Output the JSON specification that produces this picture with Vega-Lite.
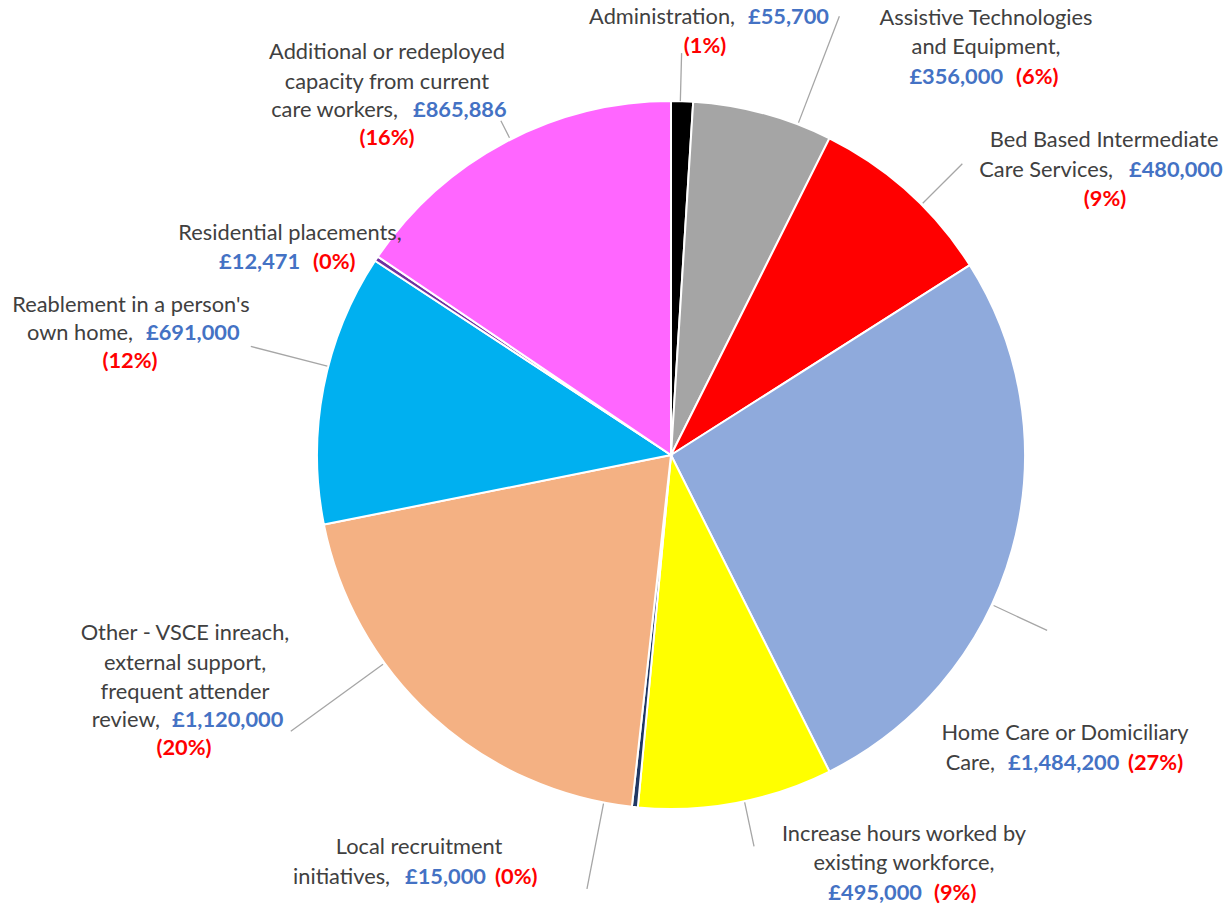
{
  "$schema": "https://vega.github.io/schema/vega-lite/v6.json",
  "autosize": {"type": "none"},
  "padding": {"left": 116, "top": 4, "right": 0, "bottom": 0},
  "width": 1110,
  "height": 902,
  "background": "white",
  "config": {
    "view": {"stroke": null},
    "text": {"font": "Lato", "fontSize": 21.8, "baseline": "middle", "lineHeight": 29.5}
  },
  "data": {
    "values": [
      {"key": "adm", "order": 1, "category": "Administration", "amount": 55700, "head": "", "mix": "Administration,", "amt": "£55,700", "pct": "(1%)"},
      {"key": "ast", "order": 2, "category": "Assistive Technologies and Equipment", "amount": 356000, "head": ["Assistive Technologies", "and Equipment,"], "mix": "", "amt": "£356,000", "pct": "(6%)"},
      {"key": "bed", "order": 3, "category": "Bed Based Intermediate Care Services", "amount": 480000, "head": "Bed Based Intermediate", "mix": "Care Services,", "amt": "£480,000", "pct": "(9%)"},
      {"key": "home", "order": 4, "category": "Home Care or Domiciliary Care", "amount": 1484200, "head": "Home Care or Domiciliary", "mix": "Care,", "amt": "£1,484,200", "pct": "(27%)"},
      {"key": "inc", "order": 5, "category": "Increase hours worked by existing workforce", "amount": 495000, "head": ["Increase hours worked by", "existing workforce,"], "mix": "", "amt": "£495,000", "pct": "(9%)"},
      {"key": "loc", "order": 6, "category": "Local recruitment initiatives", "amount": 15000, "head": "Local recruitment", "mix": "initiatives,", "amt": "£15,000", "pct": "(0%)"},
      {"key": "oth", "order": 7, "category": "Other - VSCE inreach, external support, frequent attender review", "amount": 1120000, "head": ["Other - VSCE inreach,", "external support,", "frequent attender"], "mix": "review,", "amt": "£1,120,000", "pct": "(20%)"},
      {"key": "reab", "order": 8, "category": "Reablement in a person's own home", "amount": 691000, "head": "Reablement in a person's", "mix": "own home,", "amt": "£691,000", "pct": "(12%)"},
      {"key": "res", "order": 9, "category": "Residential placements", "amount": 12471, "head": "Residential placements,", "mix": "", "amt": "£12,471", "pct": "(0%)"},
      {"key": "add", "order": 10, "category": "Additional or redeployed capacity from current care workers", "amount": 865886, "head": ["Additional or redeployed", "capacity from current"], "mix": "care workers,", "amt": "£865,886", "pct": "(16%)"}
    ]
  },
  "transform": [
    {"stack": "amount", "groupby": [], "sort": [{"field": "order", "order": "ascending"}], "as": ["t0", "t1"]}
  ],
  "encoding": {
    "theta": {"field": "t0", "type": "quantitative", "stack": null, "scale": {"domain": [0, 5575257]}}
  },
  "layer": [
    {
      "mark": {"type": "arc", "radius": 354, "stroke": "white", "strokeWidth": 2},
      "encoding": {
        "theta2": {"field": "t1"},
        "color": {
          "field": "category", "type": "nominal", "legend": null,
          "scale": {
            "domain": ["Administration", "Assistive Technologies and Equipment", "Bed Based Intermediate Care Services", "Home Care or Domiciliary Care", "Increase hours worked by existing workforce", "Local recruitment initiatives", "Other - VSCE inreach, external support, frequent attender review", "Reablement in a person's own home", "Residential placements", "Additional or redeployed capacity from current care workers"],
            "range": ["#000000", "#A5A5A5", "#FF0000", "#8FAADC", "#FFFF00", "#203864", "#F4B183", "#00B0F0", "#7030A0", "#FF66FF"]
          }
        }
      }
    },
    {"transform": [{"filter": "datum.key === 'adm'"}], "mark": {"type": "arc", "stroke": "#A6A6A6", "strokeWidth": 1.3, "filled": false, "padAngle": 3.1, "radius": 402, "radius2": 354, "thetaOffset": -0.005, "theta2Offset": -0.005}, "encoding": {"theta2": {"field": "t1"}}},
    {"transform": [{"filter": "datum.key === 'ast'"}], "mark": {"type": "arc", "stroke": "#A6A6A6", "strokeWidth": 1.3, "filled": false, "padAngle": 3.1, "radius": 470, "radius2": 356, "thetaOffset": 0.103, "theta2Offset": 0.103}, "encoding": {"theta2": {"field": "t1"}}},
    {"transform": [{"filter": "datum.key === 'bed'"}], "mark": {"type": "arc", "stroke": "#A6A6A6", "strokeWidth": 1.3, "filled": false, "padAngle": 3.1, "radius": 412, "radius2": 356, "thetaOffset": 0.051, "theta2Offset": 0.051}, "encoding": {"theta2": {"field": "t1"}}},
    {"transform": [{"filter": "datum.key === 'home'"}], "mark": {"type": "arc", "stroke": "#A6A6A6", "strokeWidth": 1.3, "filled": false, "padAngle": 3.1, "radius": 415, "radius2": 356, "thetaOffset": 0.166, "theta2Offset": 0.166}, "encoding": {"theta2": {"field": "t1"}}},
    {"transform": [{"filter": "datum.key === 'inc'"}], "mark": {"type": "arc", "stroke": "#A6A6A6", "strokeWidth": 1.3, "filled": false, "padAngle": 3.1, "radius": 400, "radius2": 355, "thetaOffset": -0.024, "theta2Offset": -0.024}, "encoding": {"theta2": {"field": "t1"}}},
    {"transform": [{"filter": "datum.key === 'loc'"}], "mark": {"type": "arc", "stroke": "#A6A6A6", "strokeWidth": 1.3, "filled": false, "padAngle": 3.1, "radius": 442, "radius2": 355, "thetaOffset": 0.089, "theta2Offset": 0.089}, "encoding": {"theta2": {"field": "t1"}}},
    {"transform": [{"filter": "datum.key === 'oth'"}], "mark": {"type": "arc", "stroke": "#A6A6A6", "strokeWidth": 1.3, "filled": false, "padAngle": 3.1, "radius": 470, "radius2": 356, "thetaOffset": 0.2005, "theta2Offset": 0.2005}, "encoding": {"theta2": {"field": "t1"}}},
    {"transform": [{"filter": "datum.key === 'reab'"}], "mark": {"type": "arc", "stroke": "#A6A6A6", "strokeWidth": 1.3, "filled": false, "padAngle": 3.1, "radius": 434, "radius2": 355, "thetaOffset": 0.0614, "theta2Offset": 0.0614}, "encoding": {"theta2": {"field": "t1"}}},
    {"transform": [{"filter": "datum.key === 'add'"}], "mark": {"type": "arc", "stroke": "#A6A6A6", "strokeWidth": 1.3, "filled": false, "padAngle": 3.1, "radius": 375, "radius2": 356, "thetaOffset": 0.017, "theta2Offset": 0.017}, "encoding": {"theta2": {"field": "t1"}}},

    {"transform": [{"filter": "datum.key === 'adm'"}], "mark": {"type": "text", "fill": "#404040", "radius": 440.7, "thetaOffset": 0.1114, "dx": 15, "dy": 0, "align": "right"}, "encoding": {"text": {"field": "mix"}}},
    {"transform": [{"filter": "datum.key === 'adm'"}], "mark": {"type": "text", "fill": "#4472C4", "fontWeight": "bold", "radius": 440.7, "thetaOffset": 0.1114, "dx": 28, "dy": 0, "align": "left"}, "encoding": {"text": {"field": "amt"}}},
    {"transform": [{"filter": "datum.key === 'adm'"}], "mark": {"type": "text", "fill": "#FF0000", "fontWeight": "bold", "radius": 440.7, "thetaOffset": 0.1114, "dx": -15, "dy": 29, "align": "center"}, "encoding": {"text": {"field": "pct"}}},

    {"transform": [{"filter": "datum.key === 'ast'"}], "mark": {"type": "text", "fill": "#404040", "radius": 515.5, "thetaOffset": 0.5947, "dx": 0, "dy": -29, "align": "center"}, "encoding": {"text": {"field": "head"}}},
    {"transform": [{"filter": "datum.key === 'ast'"}], "mark": {"type": "text", "fill": "#4472C4", "fontWeight": "bold", "radius": 515.5, "thetaOffset": 0.5947, "dx": 17, "dy": 30, "align": "right"}, "encoding": {"text": {"field": "amt"}}},
    {"transform": [{"filter": "datum.key === 'ast'"}], "mark": {"type": "text", "fill": "#FF0000", "fontWeight": "bold", "radius": 515.5, "thetaOffset": 0.5947, "dx": 30, "dy": 30, "align": "left"}, "encoding": {"text": {"field": "pct"}}},

    {"transform": [{"filter": "datum.key === 'bed'"}], "mark": {"type": "text", "fill": "#404040", "radius": 518.4, "thetaOffset": 0.5248, "dx": 0, "dy": -30, "align": "center"}, "encoding": {"text": {"field": "head"}}},
    {"transform": [{"filter": "datum.key === 'bed'"}], "mark": {"type": "text", "fill": "#404040", "radius": 518.4, "thetaOffset": 0.5248, "dx": 9, "dy": 0, "align": "right"}, "encoding": {"text": {"field": "mix"}}},
    {"transform": [{"filter": "datum.key === 'bed'"}], "mark": {"type": "text", "fill": "#4472C4", "fontWeight": "bold", "radius": 518.4, "thetaOffset": 0.5248, "dx": 25, "dy": 0, "align": "left"}, "encoding": {"text": {"field": "amt"}}},
    {"transform": [{"filter": "datum.key === 'bed'"}], "mark": {"type": "text", "fill": "#FF0000", "fontWeight": "bold", "radius": 518.4, "thetaOffset": 0.5248, "dx": 1, "dy": 29, "align": "center"}, "encoding": {"text": {"field": "pct"}}},

    {"transform": [{"filter": "datum.key === 'home'"}], "mark": {"type": "text", "fill": "#404040", "radius": 491.0, "thetaOffset": 1.2053, "dx": 0, "dy": -15, "align": "center"}, "encoding": {"text": {"field": "head"}}},
    {"transform": [{"filter": "datum.key === 'home'"}], "mark": {"type": "text", "fill": "#404040", "radius": 491.0, "thetaOffset": 1.2053, "dx": -70, "dy": 15, "align": "right"}, "encoding": {"text": {"field": "mix"}}},
    {"transform": [{"filter": "datum.key === 'home'"}], "mark": {"type": "text", "fill": "#4472C4", "fontWeight": "bold", "radius": 491.0, "thetaOffset": 1.2053, "dx": -57, "dy": 15, "align": "left"}, "encoding": {"text": {"field": "amt"}}},
    {"transform": [{"filter": "datum.key === 'home'"}], "mark": {"type": "text", "fill": "#FF0000", "fontWeight": "bold", "radius": 491.0, "thetaOffset": 1.2053, "dx": 63, "dy": 15, "align": "left"}, "encoding": {"text": {"field": "pct"}}},

    {"transform": [{"filter": "datum.key === 'inc'"}], "mark": {"type": "text", "fill": "#404040", "radius": 470.3, "thetaOffset": -0.0567, "dx": -1, "dy": -29, "align": "center"}, "encoding": {"text": {"field": "head"}}},
    {"transform": [{"filter": "datum.key === 'inc'"}], "mark": {"type": "text", "fill": "#4472C4", "fontWeight": "bold", "radius": 470.3, "thetaOffset": -0.0567, "dx": 17, "dy": 30, "align": "right"}, "encoding": {"text": {"field": "amt"}}},
    {"transform": [{"filter": "datum.key === 'inc'"}], "mark": {"type": "text", "fill": "#FF0000", "fontWeight": "bold", "radius": 470.3, "thetaOffset": -0.0567, "dx": 29, "dy": 30, "align": "left"}, "encoding": {"text": {"field": "pct"}}},

    {"transform": [{"filter": "datum.key === 'loc'"}], "mark": {"type": "text", "fill": "#404040", "radius": 478.7, "thetaOffset": 0.4604, "dx": 0, "dy": -15, "align": "center"}, "encoding": {"text": {"field": "head"}}},
    {"transform": [{"filter": "datum.key === 'loc'"}], "mark": {"type": "text", "fill": "#404040", "radius": 478.7, "thetaOffset": 0.4604, "dx": -29, "dy": 15, "align": "right"}, "encoding": {"text": {"field": "mix"}}},
    {"transform": [{"filter": "datum.key === 'loc'"}], "mark": {"type": "text", "fill": "#4472C4", "fontWeight": "bold", "radius": 478.7, "thetaOffset": 0.4604, "dx": -14, "dy": 15, "align": "left"}, "encoding": {"text": {"field": "amt"}}},
    {"transform": [{"filter": "datum.key === 'loc'"}], "mark": {"type": "text", "fill": "#FF0000", "fontWeight": "bold", "radius": 478.7, "thetaOffset": 0.4604, "dx": 76, "dy": 15, "align": "left"}, "encoding": {"text": {"field": "pct"}}},

    {"transform": [{"filter": "datum.key === 'oth'"}], "mark": {"type": "text", "fill": "#404040", "radius": 540.3, "thetaOffset": 1.0079, "dx": 0, "dy": -58, "align": "center"}, "encoding": {"text": {"field": "head"}}},
    {"transform": [{"filter": "datum.key === 'oth'"}], "mark": {"type": "text", "fill": "#404040", "radius": 540.3, "thetaOffset": 1.0079, "dx": -25, "dy": 29, "align": "right"}, "encoding": {"text": {"field": "mix"}}},
    {"transform": [{"filter": "datum.key === 'oth'"}], "mark": {"type": "text", "fill": "#4472C4", "fontWeight": "bold", "radius": 540.3, "thetaOffset": 1.0079, "dx": -13, "dy": 29, "align": "left"}, "encoding": {"text": {"field": "amt"}}},
    {"transform": [{"filter": "datum.key === 'oth'"}], "mark": {"type": "text", "fill": "#FF0000", "fontWeight": "bold", "radius": 540.3, "thetaOffset": 1.0079, "dx": -1, "dy": 57, "align": "center"}, "encoding": {"text": {"field": "pct"}}},

    {"transform": [{"filter": "datum.key === 'reab'"}], "mark": {"type": "text", "fill": "#404040", "radius": 553.6, "thetaOffset": 0.4201, "dx": 0, "dy": -28, "align": "center"}, "encoding": {"text": {"field": "head"}}},
    {"transform": [{"filter": "datum.key === 'reab'"}], "mark": {"type": "text", "fill": "#404040", "radius": 553.6, "thetaOffset": 0.4201, "dx": 2, "dy": 0, "align": "right"}, "encoding": {"text": {"field": "mix"}}},
    {"transform": [{"filter": "datum.key === 'reab'"}], "mark": {"type": "text", "fill": "#4472C4", "fontWeight": "bold", "radius": 553.6, "thetaOffset": 0.4201, "dx": 15, "dy": 0, "align": "left"}, "encoding": {"text": {"field": "amt"}}},
    {"transform": [{"filter": "datum.key === 'reab'"}], "mark": {"type": "text", "fill": "#FF0000", "fontWeight": "bold", "radius": 553.6, "thetaOffset": 0.4201, "dx": -1, "dy": 28, "align": "center"}, "encoding": {"text": {"field": "pct"}}},

    {"transform": [{"filter": "datum.key === 'res'"}], "mark": {"type": "text", "fill": "#404040", "radius": 425.3, "thetaOffset": -0.0698, "dx": -10, "dy": -14, "align": "center"}, "encoding": {"text": {"field": "head"}}},
    {"transform": [{"filter": "datum.key === 'res'"}], "mark": {"type": "text", "fill": "#4472C4", "fontWeight": "bold", "radius": 425.3, "thetaOffset": -0.0698, "dx": 0, "dy": 15, "align": "right"}, "encoding": {"text": {"field": "amt"}}},
    {"transform": [{"filter": "datum.key === 'res'"}], "mark": {"type": "text", "fill": "#FF0000", "fontWeight": "bold", "radius": 425.3, "thetaOffset": -0.0698, "dx": 13, "dy": 15, "align": "left"}, "encoding": {"text": {"field": "pct"}}},

    {"transform": [{"filter": "datum.key === 'add'"}], "mark": {"type": "text", "fill": "#404040", "radius": 458.5, "thetaOffset": 0.3079, "dx": 0, "dy": -43, "align": "center"}, "encoding": {"text": {"field": "head"}}},
    {"transform": [{"filter": "datum.key === 'add'"}], "mark": {"type": "text", "fill": "#404040", "radius": 458.5, "thetaOffset": 0.3079, "dx": 11, "dy": 15, "align": "right"}, "encoding": {"text": {"field": "mix"}}},
    {"transform": [{"filter": "datum.key === 'add'"}], "mark": {"type": "text", "fill": "#4472C4", "fontWeight": "bold", "radius": 458.5, "thetaOffset": 0.3079, "dx": 26, "dy": 15, "align": "left"}, "encoding": {"text": {"field": "amt"}}},
    {"transform": [{"filter": "datum.key === 'add'"}], "mark": {"type": "text", "fill": "#FF0000", "fontWeight": "bold", "radius": 458.5, "thetaOffset": 0.3079, "dx": 0, "dy": 43, "align": "center"}, "encoding": {"text": {"field": "pct"}}}
  ]
}
